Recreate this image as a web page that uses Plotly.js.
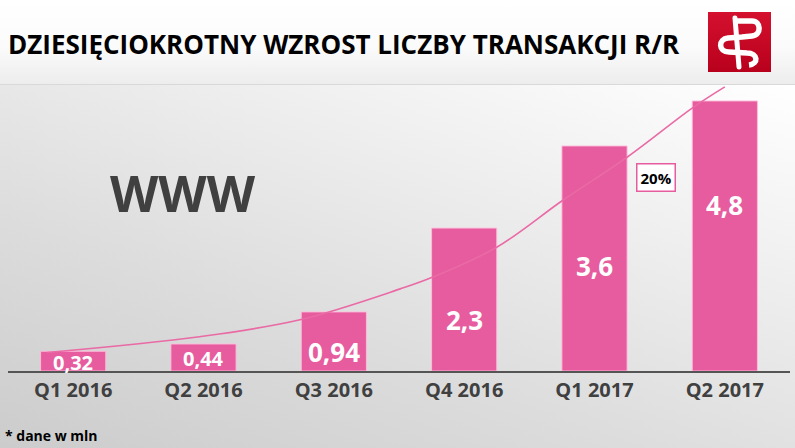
<!DOCTYPE html>
<html>
<head>
<meta charset="utf-8">
<script src="https://cdn.plot.ly/plotly-3.0.1.min.js"></script>
<style>
  html, body { margin:0; padding:0; }
  body { width:795px; height:448px; position:relative; overflow:hidden; background:#e6e6e6; }
  #hdr { position:absolute; left:0; top:0; width:795px; height:85px;
         background:linear-gradient(to bottom, #ffffff 0%, #fbfbfb 55%, #ededed 100%);
         border-bottom:1px solid #d9d9d9; box-sizing:border-box; }
  #bg { position:absolute; left:0; top:85px; width:795px; height:363px;
        background:linear-gradient(200deg, #ffffff 0%, #efefef 30%, #dcdcdc 65%, #cccccc 100%); }
  #chart { position:absolute; left:0; top:0; width:795px; height:448px; }
  #logo { position:absolute; left:708px; top:12px; }
</style>
</head>
<body>
<div id="hdr"></div>
<div id="bg"></div>
<div id="chart"></div>
<svg id="logo" width="63" height="60" viewBox="0 0 63 60">
  <defs>
    <linearGradient id="lg" x1="0" y1="0" x2="0" y2="1">
      <stop offset="0" stop-color="#d4112e"/>
      <stop offset="1" stop-color="#b8001c"/>
    </linearGradient>
  </defs>
  <rect x="0" y="0" width="63" height="60" fill="url(#lg)"/>
  <path d="M27 6 L31 55" stroke="#fff" stroke-width="5" fill="none" stroke-linecap="round"/>
  <path d="M28 9 L44 9 C53 9 54 23 44 24 L34 25 L20 26 C10 27 10 40 21 40 L39 41 C50 41 51 52 41 53"
        stroke="#fff" stroke-width="5.5" fill="none" stroke-linejoin="round"/>
</svg>
<script>
// ---- data ----
const categories = ['Q1 2016', 'Q2 2016', 'Q3 2016', 'Q4 2016', 'Q1 2017', 'Q2 2017'];
const barValues  = [0.35, 0.48, 1.05, 2.54, 4.0, 4.8];
const barLabels  = ['0,32', '0,44', '0,94', '2,3', '3,6', '4,8'];
const trendX = [-0.2, 0.97, 1.74, 2.51, 2.76, 3.25, 3.76, 4.25, 4.76, 5.0];
const trendY = [0.33, 0.61, 0.91, 1.46, 1.67, 2.20, 3.04, 3.80, 4.69, 5.05];
const growthLabel = '20%';
const titleText = 'DZIESIĘCIOKROTNY WZROST LICZBY TRANSAKCJI R/R';
const bigText = 'WWW';
const footnote = '* dane w mln';

// ---- styling ----
const PINK = '#e65c9e';
const FONT = 'Open Sans, sans-serif';
const labelPos  = [0.16, 0.23, 0.34, 0.91, 1.87, 2.95];
const labelSize = [20, 20, 26, 26, 26, 26];
const idx = categories.map((c, i) => i);

const traces = [
  {
    type: 'bar', x: idx, y: barValues, width: 0.5,
    marker: { color: PINK, line: { color: 'rgba(255,190,220,0.9)', width: 1 } },
    hoverinfo: 'skip'
  },
  {
    type: 'scatter', mode: 'lines', x: trendX, y: trendY,
    line: { color: '#ea6aa5', width: 1.6, shape: 'spline' },
    hoverinfo: 'skip', cliponaxis: true
  }
];

const annotations = barLabels.map((t, i) => ({
  x: i, y: labelPos[i], xref: 'x', yref: 'y', text: t, showarrow: false,
  font: { family: FONT, size: labelSize[i], color: '#ffffff', weight: 'bold' },
  xanchor: 'center', yanchor: 'middle'
}));
annotations.push({
  xref: 'paper', yref: 'paper', x: 0.224, y: 0.622, text: bigText, showarrow: false,
  font: { family: FONT, size: 50, color: '#404040', weight: 'bold' },
  xanchor: 'center', yanchor: 'middle'
});
annotations.push({
  xref: 'paper', yref: 'paper', x: 0.829, y: 0.678, text: growthLabel, showarrow: false,
  font: { family: FONT, size: 15, color: '#000000', weight: 'bold' },
  bgcolor: '#ffffff', bordercolor: PINK, borderwidth: 1.5, borderpad: 3,
  xanchor: 'center', yanchor: 'middle'
});
annotations.push({
  xref: 'paper', yref: 'paper', x: -0.0064, y: -0.227, text: footnote, showarrow: false,
  font: { family: FONT, size: 14, color: '#000000', weight: 'bold' },
  xanchor: 'left', yanchor: 'middle'
});

const layout = {
  width: 795, height: 448,
  margin: { l: 8, r: 5, t: 85, b: 77 },
  paper_bgcolor: 'rgba(0,0,0,0)', plot_bgcolor: 'rgba(0,0,0,0)',
  showlegend: false,
  title: {
    text: titleText, xref: 'container', yref: 'container',
    x: 8 / 795, xanchor: 'left', y: 1 - 45 / 448, yanchor: 'middle',
    font: { family: FONT, size: 26, color: '#000000', weight: 'bold' }
  },
  xaxis: {
    range: [-0.5, 5.5], tickvals: idx, ticktext: categories,
    showline: true, linecolor: '#555555', linewidth: 2,
    showgrid: false, zeroline: false, ticks: '',
    tickfont: { family: FONT, size: 20, color: '#404040', weight: 'bold' }
  },
  yaxis: { range: [0, 5.084], visible: false, showgrid: false, zeroline: false },
  annotations: annotations
};

Plotly.newPlot('chart', traces, layout, { displayModeBar: false, staticPlot: true });
</script>
</body>
</html>
